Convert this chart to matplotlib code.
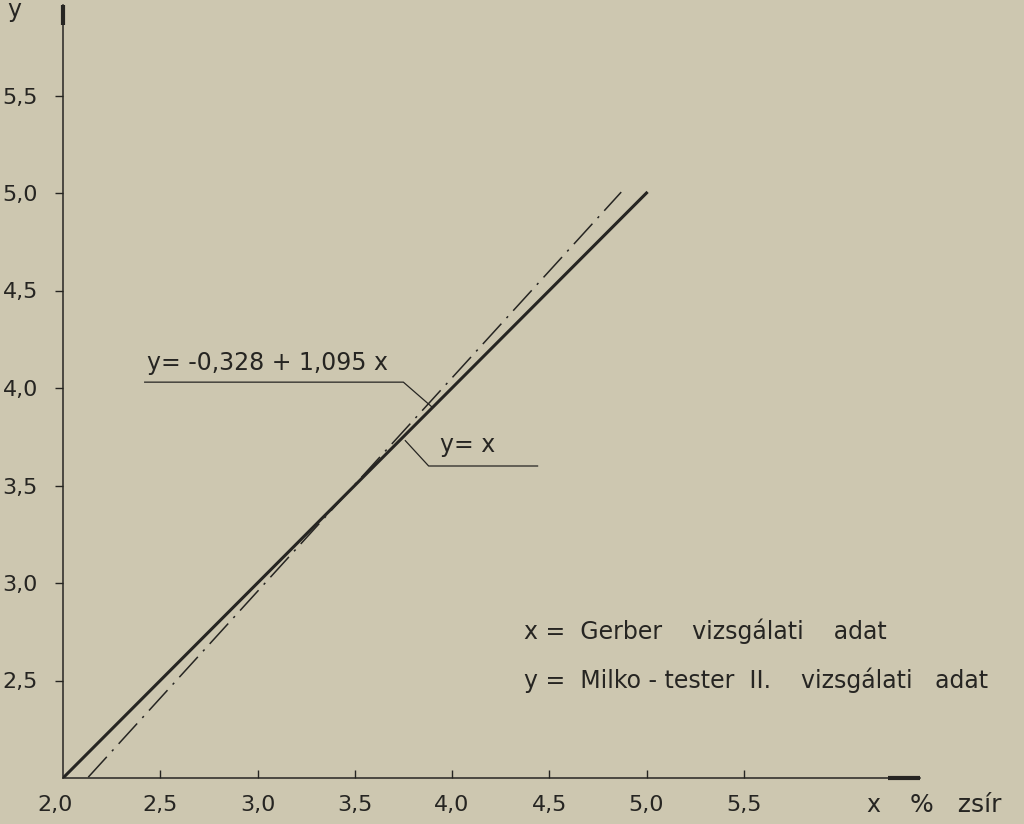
import matplotlib
matplotlib.use("Agg")
import matplotlib.pyplot as plt
import numpy as np

# tick values and labels (Hungarian decimal comma)
x_ticks = [2.0, 2.5, 3.0, 3.5, 4.0, 4.5, 5.0, 5.5]
x_tick_labels = ["2,0", "2,5", "3,0", "3,5", "4,0", "4,5", "5,0", "5,5"]
y_ticks = [2.5, 3.0, 3.5, 4.0, 4.5, 5.0, 5.5]
y_tick_labels = ["2,5", "3,0", "3,5", "4,0", "4,5", "5,0", "5,5"]

# y = x reference line
ident_x = [2.0, 5.0]
# regression line y = a + b*x
fit_a = -0.328
fit_b = 1.095
fit_x = [2.13, 4.87]

paper = "#cdc7b0"
ink = "#262522"

plt.rcParams["font.family"] = ["DejaVu Sans"]

fig = plt.figure(figsize=(10.24, 8.24), dpi=100)
fig.patch.set_facecolor(paper)
ax = fig.add_axes([63 / 1024, 46 / 824, 857 / 1024, 773 / 824])
ax.set_facecolor(paper)
ax.set_xlim(2.0, 2.0 + 857 / 194.5)
ax.set_ylim(2.0, 2.0 + 773 / 195)

for s in ["top", "right"]:
    ax.spines[s].set_visible(False)
for s in ["left", "bottom"]:
    ax.spines[s].set_color(ink)
    ax.spines[s].set_linewidth(1.1)

# arrow-ish thick ends of the axes
ax.plot([6.24, 6.406], [2.0, 2.0], color=ink, lw=3, solid_capstyle="butt", clip_on=False)
ax.plot([2.0, 2.0], [5.86, 5.964], color=ink, lw=3, solid_capstyle="butt", clip_on=False)

ax.set_xticks(x_ticks[1:])
ax.set_xticklabels(x_tick_labels[1:])
ax.set_yticks(y_ticks)
ax.set_yticklabels(y_tick_labels)
ax.tick_params(axis="x", direction="in", length=6, width=1, color=ink,
               labelsize=16, labelcolor=ink, pad=12)
ax.tick_params(axis="y", direction="out", length=6, width=1, color=ink,
               labelsize=16, labelcolor=ink, pad=12)
ax.text(1.96, 2.0 - 0.14, "2,0", ha="center", va="center", fontsize=16, color=ink)

# lines
ax.plot(ident_x, ident_x, color=ink, lw=2.2)
fx = np.array(fit_x)
ax.plot(fx, fit_a + fit_b * fx, color=ink, lw=1.1, linestyle=(0, (18, 5, 1.5, 5)))

# equation labels with leader lines
ax.text(2.43, 4.13, "y= -0,328 + 1,095 x", fontsize=17, color=ink, va="center")
ax.plot([2.42, 3.75, 3.9], [4.03, 4.03, 3.9], color=ink, lw=0.9)
ax.text(3.94, 3.71, "y= x", fontsize=17, color=ink, va="center")
ax.plot([3.76, 3.88, 4.44], [3.73, 3.6, 3.6], color=ink, lw=0.9)

# explanation texts
ax.text(4.37, 2.75, "x =  Gerber    vizsgálati    adat", fontsize=17, color=ink, va="center")
ax.text(4.37, 2.50, "y =  Milko - tester  II.    vizsgálati   adat", fontsize=17, color=ink, va="center")

# axis names
fig.text(873 / 1024, 1 - 805 / 824, "x", fontsize=17, color=ink, ha="center", va="center")
fig.text(910 / 1024, 1 - 805 / 824, "%   zsír", fontsize=18, color=ink, ha="left", va="center")
fig.text(14 / 1024, 1 - 10 / 824, "y", fontsize=17, color=ink, ha="center", va="center")

fig.savefig("out.png", dpi=100, facecolor=paper)
